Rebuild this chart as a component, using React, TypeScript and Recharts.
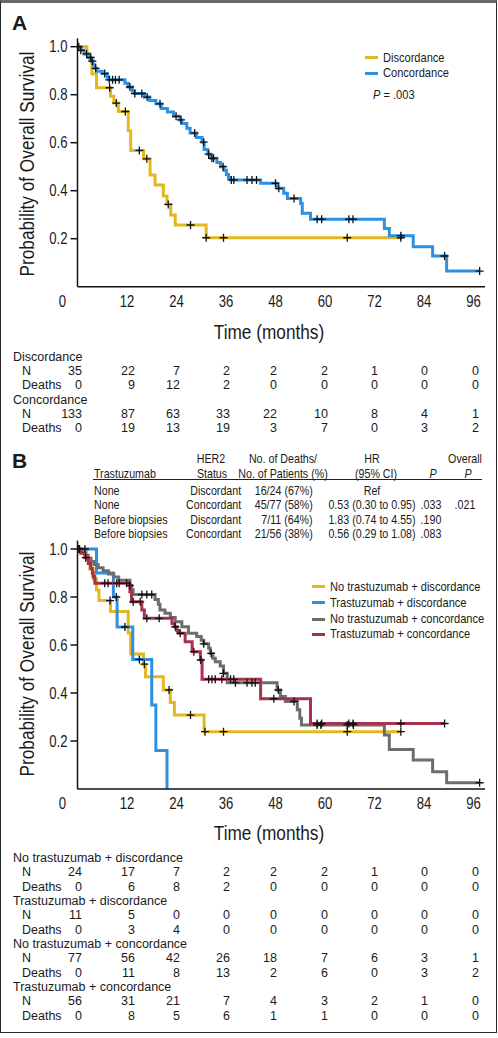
import React from 'react';
import { ComposedChart, Line, Scatter, XAxis, YAxis } from 'recharts';

// ---------- shared axis values ----------
const monthTicks = [0, 12, 24, 36, 48, 60, 72, 84, 96];
const survTicks = [0.2, 0.4, 0.6, 0.8, 1.0];

// ---------- Panel A: Kaplan-Meier steps [month, survival] ----------
const discordanceA: [number, number][] = [
  [0, 1], [2.3, 0.971], [3.0, 0.943], [3.5, 0.886], [4.6, 0.829], [8.0, 0.794], [8.8, 0.765],
  [9.9, 0.73], [12.3, 0.65], [12.9, 0.568], [16.0, 0.533], [17.6, 0.465], [18.8, 0.424],
  [20.8, 0.378], [21.7, 0.343], [22.6, 0.299], [23.7, 0.257], [31.2, 0.204], [78.4, 0.204],
];
const discordanceACensor = [7.8, 9.4, 11.6, 15.0, 16.8, 22.0, 27.4, 31.2, 35.4, 65.4, 78.4];

const concordanceA: [number, number][] = [
  [0, 1], [0.8, 0.985], [1.6, 0.97], [2.6, 0.955], [3.3, 0.94], [3.8, 0.925], [4.2, 0.91],
  [4.6, 0.898], [6.0, 0.888], [7.2, 0.873], [7.6, 0.862], [11.5, 0.848], [12.3, 0.832],
  [13.3, 0.815], [13.8, 0.805], [16.2, 0.79], [17.5, 0.776], [19.0, 0.762], [20.3, 0.742],
  [21.8, 0.728], [23.3, 0.71], [24.8, 0.695], [25.3, 0.68], [26.5, 0.66], [27.3, 0.64],
  [28.8, 0.622], [30.2, 0.602], [30.7, 0.572], [31.6, 0.552], [32.3, 0.535], [33.8, 0.518],
  [34.7, 0.5], [35.5, 0.485], [36.1, 0.468], [36.6, 0.455], [37.1, 0.445], [44.4, 0.431],
  [48.4, 0.41], [50.0, 0.389], [50.9, 0.368], [54.1, 0.347], [54.5, 0.306], [56.5, 0.281],
  [74.4, 0.243], [75.6, 0.2125], [81.4, 0.1667], [86.1, 0.128], [89.5, 0.065], [97.5, 0.065],
];
const concordanceACensor = [
  0.3, 0.8, 2.2, 3.2, 3.6, 4.4, 6.6, 7.7, 8.5, 9.2, 10.1, 12.7, 13.9, 15.6, 16.9, 20.0, 23.9,
  25.1, 28.4, 30.6, 31.8, 32.6, 33.0, 35.3, 37.3, 37.9, 41.1, 42.3, 43.4, 48.0, 48.8, 52.5,
  58.1, 59.2, 65.8, 66.8, 78.4, 89.0, 97.5,
];

// ---------- Panel B ----------
const noTrasDiscB: [number, number][] = [
  [0, 1], [2.2, 0.958], [3.0, 0.917], [3.8, 0.875], [4.6, 0.829], [5.2, 0.785], [8.0, 0.74],
  [12.3, 0.65], [12.9, 0.5625], [16.0, 0.52], [16.5, 0.468], [20.8, 0.4125], [22.5, 0.36],
  [23.5, 0.308], [30.7, 0.239], [78.4, 0.239],
];
const noTrasDiscBCensor = [7.9, 16.2, 22.2, 27.4, 30.9, 35.4, 65.4, 78.4];

const trasDiscB: [number, number][] = [
  [0, 1], [4.6, 0.9], [8.7, 0.8], [9.6, 0.675], [13.4, 0.54], [18.0, 0.35], [19.0, 0.16], [21.7, 0],
];
const trasDiscBCensor = [1.8, 9.4, 11.5, 15.0];

const noTrasConcB: [number, number][] = [
  [0, 1], [0.8, 0.987], [1.8, 0.974], [2.6, 0.961], [3.3, 0.948], [4.0, 0.935], [5.0, 0.922],
  [6.2, 0.909], [7.5, 0.896], [8.8, 0.883], [10.0, 0.87], [12.7, 0.848], [13.1, 0.83],
  [13.5, 0.81], [18.8, 0.79], [19.6, 0.77], [20.0, 0.746], [21.2, 0.732], [22.5, 0.715],
  [23.7, 0.697], [25.3, 0.676], [26.9, 0.649], [28.9, 0.635], [30.0, 0.62], [30.6, 0.605],
  [31.8, 0.586], [32.2, 0.565], [32.8, 0.545], [33.4, 0.53], [34.6, 0.5125], [35.4, 0.482],
  [36.3, 0.443], [48.4, 0.4125], [49.2, 0.385], [50.4, 0.365], [53.3, 0.33], [53.9, 0.295],
  [54.3, 0.267], [74.4, 0.225], [75.6, 0.165], [81.4, 0.121], [86.1, 0.072], [89.5, 0.026],
  [97.5, 0.026],
];
const noTrasConcBCensor = [
  0.5, 12.7, 15.6, 16.8, 18.0, 30.6, 32.4, 35.4, 38.3, 41.1, 42.3, 43.1, 48.7, 52.5, 58.1,
  59.0, 65.4, 66.9, 97.5,
];

const trasConcB: [number, number][] = [
  [0, 1], [0.8, 0.982], [1.8, 0.964], [2.6, 0.94], [3.2, 0.92], [3.6, 0.9], [3.8, 0.885],
  [4.2, 0.857], [12.7, 0.822], [13.1, 0.78], [15.6, 0.746], [16.2, 0.711], [22.9, 0.69],
  [23.5, 0.676], [24.1, 0.66], [24.5, 0.649], [26.1, 0.614], [27.8, 0.572], [29.8, 0.5375],
  [30.2, 0.457], [44.4, 0.376], [56.5, 0.273], [89.0, 0.273],
];
const trasConcBCensor = [
  0.3, 2.0, 6.6, 7.4, 9.5, 10.1, 11.9, 13.5, 15.2, 16.8, 19.8, 23.7, 24.9, 28.2, 29.9, 31.8,
  32.6, 33.4, 35.0, 37.1, 37.9, 47.6, 58.1, 59.2, 65.8, 66.8, 78.4, 89.0,
];

// ---------- risk tables ----------
const discordanceN = [35, 22, 7, 2, 2, 2, 1, 0, 0];
const discordanceDeaths = [0, 9, 12, 2, 0, 0, 0, 0, 0];
const concordanceN = [133, 87, 63, 33, 22, 10, 8, 4, 1];
const concordanceDeaths = [0, 19, 13, 19, 3, 7, 0, 3, 2];

const noTrasDiscN = [24, 17, 7, 2, 2, 2, 1, 0, 0];
const noTrasDiscDeaths = [0, 6, 8, 2, 0, 0, 0, 0, 0];
const trasDiscN = [11, 5, 0, 0, 0, 0, 0, 0, 0];
const trasDiscDeaths = [0, 3, 4, 0, 0, 0, 0, 0, 0];
const noTrasConcN = [77, 56, 42, 26, 18, 7, 6, 3, 1];
const noTrasConcDeaths = [0, 11, 8, 13, 2, 6, 0, 3, 2];
const trasConcN = [56, 31, 21, 7, 4, 3, 2, 1, 0];
const trasConcDeaths = [0, 8, 5, 6, 1, 1, 0, 0, 0];

// ---------- HR table ----------
const hrTrastuzumab = ['None', 'None', 'Before biopsies', 'Before biopsies'];
const hrStatus = ['Discordant', 'Concordant', 'Discordant', 'Concordant'];
const hrDeaths = ['16/24 (67%)', '45/77 (58%)', '7/11 (64%)', '21/56 (38%)'];
const hrValues = ['Ref', '0.53 (0.30 to 0.95)', '1.83 (0.74 to 4.55)', '0.56 (0.29 to 1.08)'];
const hrP = ['', '.033', '.190', '.083'];
const hrOverallP = ['', '.021', '', ''];

// ---------- styles ----------
const YELLOW = '#E3B81E';
const BLUE = '#2E90E0';
const GRAY = '#6D6D6D';
const RED = '#A7324B';
const SANS = "'Liberation Sans', Arial, sans-serif";
const NARROW_X = 0.82; // horizontal squeeze to mimic a condensed face
const INK = '#1a1a1a';
const W = 498;

const toPts = (steps: [number, number][]) => steps.map(([t, s]) => ({ t, s }));
const levelAt = (steps: [number, number][], t: number) => {
  let s = steps[0][1];
  for (const [tt, ss] of steps) {
    if (tt <= t + 1e-9) s = ss;
    else break;
  }
  return s;
};
const censorPts = (steps: [number, number][], times: number[]) =>
  times.map((t) => ({ t, s: levelAt(steps, t) }));

const Plus = (p: any) => {
  const { cx, cy } = p;
  if (cx == null || cy == null) return null;
  return (
    <path
      d={`M${cx - 4},${cy}H${cx + 4}M${cx},${cy - 4}V${cy + 4}`}
      stroke="#111"
      strokeWidth={1.3}
      fill="none"
    />
  );
};

const XTick = (p: any) => {
  const { x, y, payload } = p;
  const dx = payload.value === 0 ? -15 : 0;
  return (
    <text
      transform={`translate(${x + dx},${y}) scale(${NARROW_X},1)`}
      x={0}
      y={0}
      dy={11}
      textAnchor="middle"
      fontFamily={SANS}
      fontSize={16}
      fill={INK}
    >
      {payload.value}
    </text>
  );
};
const YTick = (p: any) => {
  const { x, y, payload } = p;
  return (
    <text
      transform={`translate(${x},${y}) scale(${NARROW_X},1)`}
      x={0}
      y={0}
      dy={5.5}
      textAnchor="end"
      fontFamily={SANS}
      fontSize={16}
      fill={INK}
    >
      {Number(payload.value).toFixed(1)}
    </text>
  );
};

type Series = { steps: [number, number][]; censor: number[]; color: string };

const KMChart = ({ series, top, marginTop, marginBottom }: { series: Series[]; top: number; marginTop: number; marginBottom: number }) => (
  <div style={{ position: 'absolute', left: 0, top }}>
    <ComposedChart
      width={W}
      height={330}
      margin={{ top: marginTop, right: 13, bottom: marginBottom, left: 37.5 }}
    >
      <XAxis
        type="number"
        dataKey="t"
        domain={[0, 98.8]}
        ticks={monthTicks}
        interval={0}
        allowDataOverflow
        tickLine={false}
        tickSize={6}
        tickMargin={3}
        height={30}
        axisLine={{ stroke: '#111', strokeWidth: 1.5 }}
        tick={XTick}
      />
      <YAxis
        type="number"
        dataKey="s"
        domain={[0, 1.035]}
        ticks={survTicks}
        interval={0}
        allowDataOverflow
        width={40}
        tickSize={7}
        tickMargin={3}
        tickLine={{ stroke: '#111', strokeWidth: 1.5 }}
        axisLine={{ stroke: '#111', strokeWidth: 1.5 }}
        tick={YTick}
      />
      {series.map((s, i) => (
        <Line
          key={'l' + i}
          data={toPts(s.steps)}
          dataKey="s"
          type="stepAfter"
          stroke={s.color}
          strokeWidth={3}
          dot={false}
          activeDot={false}
          isAnimationActive={false}
        />
      ))}
      {series.map((s, i) => (
        <Scatter
          key={'c' + i}
          data={censorPts(s.steps, s.censor)}
          dataKey="s"
          shape={(p: any) => <Plus {...p} />}
          isAnimationActive={false}
        />
      ))}
    </ComposedChart>
  </div>
);

const Txt = ({ x, y, children, align = 'left', size = 12.5, narrow = false, style = {} }: any) => {
  const lh = size * 1.2;
  const s: any = {
    position: 'absolute',
    top: y - lh / 2,
    fontSize: size,
    lineHeight: lh + 'px',
    fontFamily: SANS,
    whiteSpace: 'nowrap',
    color: INK,
    ...style,
  };
  let origin = 'left center';
  if (align === 'left') s.left = x;
  else if (align === 'right') {
    s.right = W - x;
    origin = 'right center';
  } else {
    s.left = x;
    s.transform = 'translateX(-50%)';
    origin = 'center center';
  }
  return (
    <div style={s}>
      <span
        style={{
          display: 'inline-block',
          transform: narrow ? `scaleX(${NARROW_X})` : undefined,
          transformOrigin: origin,
        }}
      >
        {children}
      </span>
    </div>
  );
};

const colRight = [82, 135, 180, 230, 277, 328, 378, 428, 479];

const RiskTable = ({ groups, top }: { groups: { name: string; n: number[]; d: number[] }[]; top: number }) => {
  const step = 14.35;
  const out: any[] = [];
  groups.forEach((g, gi) => {
    const y0 = top + gi * 3 * step;
    out.push(<Txt key={`g${gi}`} x={13} y={y0}>{g.name}</Txt>);
    out.push(<Txt key={`n${gi}`} x={22} y={y0 + step}>N</Txt>);
    out.push(<Txt key={`d${gi}`} x={22} y={y0 + 2 * step}>Deaths</Txt>);
    g.n.forEach((v, i) => out.push(<Txt key={`nv${gi}-${i}`} x={colRight[i]} y={y0 + step} align="right">{v}</Txt>));
    g.d.forEach((v, i) => out.push(<Txt key={`dv${gi}-${i}`} x={colRight[i]} y={y0 + 2 * step} align="right">{v}</Txt>));
  });
  return <>{out}</>;
};

const LegendItem = ({ x, y, color, label }: any) => (
  <>
    <div style={{ position: 'absolute', left: x, top: y - 1.5, width: 13, height: 3, background: color }} />
    <Txt x={x + 18} y={y} narrow size={13.5}>{label}</Txt>
  </>
);

const YLabel = ({ cy }: { cy: number }) => (
  <div
    style={{
      position: 'absolute',
      left: 27,
      top: cy,
      transform: `translate(-50%, -50%) rotate(-90deg) scaleX(${NARROW_X})`,
      fontFamily: SANS,
      fontSize: 21,
      lineHeight: '24px',
      whiteSpace: 'nowrap',
      color: INK,
    }}
  >
    Probability of Overall Survival
  </div>
);

const HT = (props: any) => <Txt narrow size={13} {...props} />;

export default function App() {
  const seriesA: Series[] = [
    { steps: discordanceA, censor: discordanceACensor, color: YELLOW },
    { steps: concordanceA, censor: concordanceACensor, color: BLUE },
  ];
  const seriesB: Series[] = [
    { steps: noTrasDiscB, censor: noTrasDiscBCensor, color: YELLOW },
    { steps: trasDiscB, censor: trasDiscBCensor, color: BLUE },
    { steps: noTrasConcB, censor: noTrasConcBCensor, color: GRAY },
    { steps: trasConcB, censor: trasConcBCensor, color: RED },
  ];
  const hrRowsY = [491, 505, 519.3, 533.3];
  return (
    <div style={{ position: 'absolute', left: 0, top: 0, width: W, height: 1038, background: '#fff', overflow: 'hidden' }}>
      <div
        style={{
          position: 'absolute',
          left: 0,
          top: 0,
          width: 497,
          height: 1033,
          boxSizing: 'border-box',
          border: '1.5px solid #2a2a2a',
          borderTop: '3px solid #6a6a6a',
        }}
      />
      {/* Panel A */}
      <Txt x={12} y={22.5} size={21} style={{ fontWeight: 'bold' }}>A</Txt>
      <KMChart series={seriesA} top={0} marginTop={38.3} marginBottom={13.3} />
      <YLabel cy={163.5} />
      <Txt x={269} y={331.7} align="center" narrow size={21}>Time (months)</Txt>
      <LegendItem x={365} y={57.7} color={YELLOW} label="Discordance" />
      <LegendItem x={365} y={73.3} color={BLUE} label="Concordance" />
      <Txt x={373} y={95} narrow size={13.5}><i>P</i> = .003</Txt>
      <RiskTable
        top={357}
        groups={[
          { name: 'Discordance', n: discordanceN, d: discordanceDeaths },
          { name: 'Concordance', n: concordanceN, d: concordanceDeaths },
        ]}
      />

      {/* Panel B */}
      <Txt x={12} y={460.5} size={21} style={{ fontWeight: 'bold' }}>B</Txt>
      <HT x={211} y={459} align="center">HER2</HT>
      <HT x={282.5} y={459} align="center">No. of Deaths/</HT>
      <HT x={372} y={459} align="center">HR</HT>
      <HT x={465} y={459} align="center">Overall</HT>
      <HT x={94} y={474}>Trastuzumab</HT>
      <HT x={211.5} y={474} align="center">Status</HT>
      <HT x={282.5} y={474} align="center">No. of Patients (%)</HT>
      <HT x={376} y={474} align="center">(95% CI)</HT>
      <HT x={433} y={474} align="center"><i>P</i></HT>
      <HT x={468} y={474} align="center"><i>P</i></HT>
      <div style={{ position: 'absolute', left: 93, top: 479, width: 389, height: 1, background: '#222' }} />
      {hrRowsY.map((y, i) => (
        <React.Fragment key={'hr' + i}>
          <HT x={94} y={y}>{hrTrastuzumab[i]}</HT>
          <HT x={241} y={y} align="right">{hrStatus[i]}</HT>
          <HT x={313} y={y} align="right">{hrDeaths[i]}</HT>
          <HT x={372} y={y} align="center">{hrValues[i]}</HT>
          <HT x={431} y={y} align="center">{hrP[i]}</HT>
          <HT x={465} y={y} align="center">{hrOverallP[i]}</HT>
        </React.Fragment>
      ))}
      <KMChart series={seriesB} top={500} marginTop={40.6} marginBottom={11} />
      <YLabel cy={664} />
      <Txt x={269} y={833} align="center" narrow size={21}>Time (months)</Txt>
      <LegendItem x={312} y={586.7} color={YELLOW} label="No trastuzumab + discordance" />
      <LegendItem x={312} y={602.7} color={BLUE} label="Trastuzumab + discordance" />
      <LegendItem x={312} y={619} color={GRAY} label="No trastuzumab + concordance" />
      <LegendItem x={312} y={634.3} color={RED} label="Trastuzumab + concordance" />
      <RiskTable
        top={858.3}
        groups={[
          { name: 'No trastuzumab + discordance', n: noTrasDiscN, d: noTrasDiscDeaths },
          { name: 'Trastuzumab + discordance', n: trasDiscN, d: trasDiscDeaths },
          { name: 'No trastuzumab + concordance', n: noTrasConcN, d: noTrasConcDeaths },
          { name: 'Trastuzumab + concordance', n: trasConcN, d: trasConcDeaths },
        ]}
      />
    </div>
  );
}
